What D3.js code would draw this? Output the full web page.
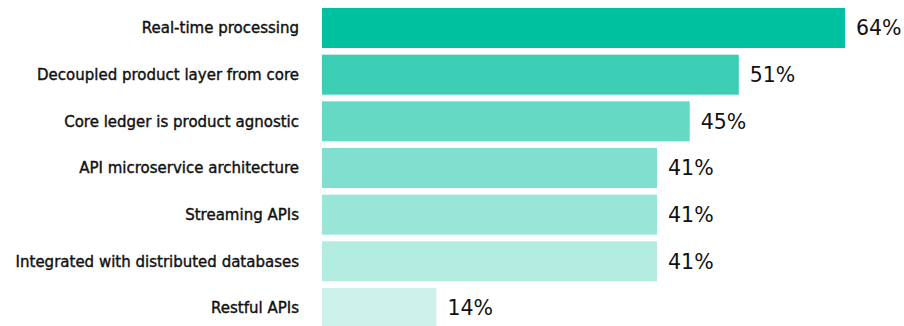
<!doctype html>
<html lang="en">
<head>
<meta charset="UTF-8">
<title>Bar chart</title>
<style type="text/css">
body {
  margin: 0;
  padding: 0;
  background: #fff;
}
</style>
<script type="text/javascript" src="https://cdn.jsdelivr.net/npm/d3@7"></script>
</head>
<body>
<div id="chart"></div>
<script type="text/javascript">

var categories = ['Real-time processing', 'Decoupled product layer from core', 'Core ledger is product agnostic',
  'API microservice architecture', 'Streaming APIs', 'Integrated with distributed databases', 'Restful APIs'];
var values = [64, 51, 45, 41, 41, 41, 14];
var colors = ['#00c19f', '#3bceb4', '#66d9c4', '#80dfce', '#99e5d8', '#b3ece1', '#ccf2eb'];

var w = 904, h = 326;

var svg = d3.select('#chart')
  .append('svg')
  .attr('width', w)
  .attr('height', h);

var x = d3.scaleLinear().domain([0, 64]).range([322, 845]);
var y = d3.scaleBand().domain(categories).range([8, 328]).paddingInner(0.143).paddingOuter(0);

var data = categories.map(function(c, i) { return { name: c, value: values[i], color: colors[i] }; });

svg.selectAll('rect.bar').data(data)
  .enter().append('rect')
  .attr('class', 'bar')
  .attr('x', x(0))
  .attr('y', function(d) { return y(d.name); })
  .attr('width', function(d) { return x(d.value) - x(0); })
  .attr('height', y.bandwidth())
  .attr('fill', function(d) { return d.color; });

svg.selectAll('text.label').data(data)
  .enter().append('text')
  .attr('class', 'label')
  .attr('x', 299)
  .attr('y', function(d) { return y(d.name) + y.bandwidth() / 2; })
  .attr('dy', '0.35em')
  .attr('text-anchor', 'end')
  .style('font-family', '"DejaVu Sans", sans-serif')
  .style('font-weight', '400')
  .style('font-size', '15px')
  .style('fill', '#111')
  .style('stroke', '#111')
  .style('stroke-width', '0.4px')
  .text(function(d) { return d.name; });

svg.selectAll('text.value').data(data)
  .enter().append('text')
  .attr('class', 'value')
  .attr('x', function(d) { return x(d.value) + 11; })
  .attr('y', function(d) { return y(d.name) + y.bandwidth() / 2; })
  .attr('dy', '0.35em')
  .style('font-family', '"DejaVu Sans", sans-serif')
  .style('font-weight', '400')
  .style('font-size', '20.5px')
  .style('fill', '#111')
  .text(function(d) { return d.value + '%'; });

</script>
</body>
</html>
